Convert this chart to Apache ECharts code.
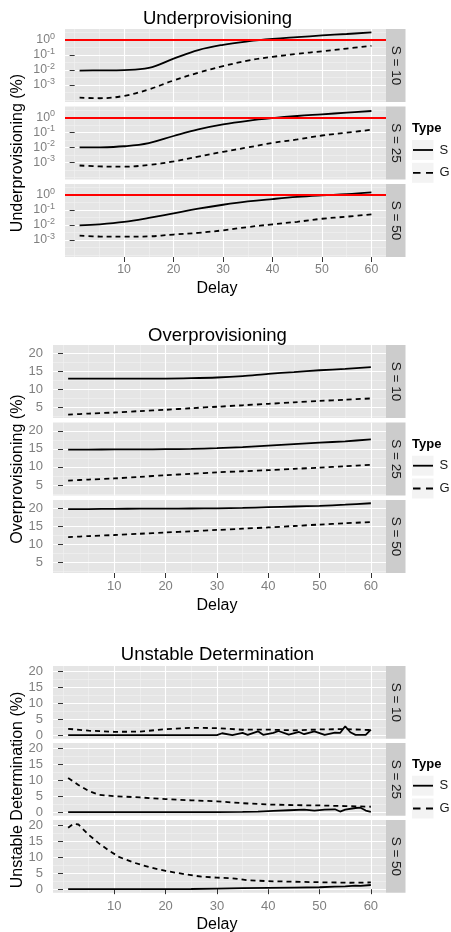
<!DOCTYPE html>
<html><head><meta charset="utf-8">
<script src="https://cdn.jsdelivr.net/npm/echarts@6/dist/echarts.min.js"></script>
<style>html,body{margin:0;padding:0;background:#fff}#c{width:451px;height:932px}</style>
</head><body><div id="c"></div>
<script>
// ---------- data ----------
const delays = [1,5,10,15,20,25,30,35,40,45,50,55,60];
const xTicks = [10,20,30,40,50,60];
const xMinor = [0,5,15,25,35,45,55];
const facetLabels = ['S = 10','S = 25','S = 50'];
const typeNames = ['S','G'];

// Underprovisioning (%), log scale
const underTicks = [0.001,0.01,0.1,1];
const underMinor = [0.0001,0.000316,0.00316,0.0316,0.316,3.16];
const underS10 = [0.0091,0.0093,0.0098,0.0135,0.056,0.21,0.47,0.79,1.15,1.51,1.95,2.45,3.09];
const underG10 = [0.000145,0.000132,0.00019,0.00051,0.0020,0.0065,0.0178,0.042,0.074,0.117,0.174,0.263,0.398];
const underS25 = [0.0100,0.0102,0.012,0.0195,0.0575,0.158,0.339,0.589,0.89,1.23,1.58,2.04,2.63];
const underG25 = [0.00063,0.00055,0.000525,0.00069,0.00117,0.00245,0.0051,0.0100,0.020,0.034,0.062,0.095,0.151];
const underS50 = [0.0095,0.011,0.0158,0.029,0.059,0.12,0.219,0.363,0.525,0.724,0.912,1.10,1.45];
const underG50 = [0.00195,0.0017,0.00166,0.00174,0.0023,0.0030,0.0044,0.0072,0.011,0.0162,0.0257,0.0355,0.051];

// Overprovisioning (%)
const overTicks = [5,10,15,20];
const overMinor = [2.5,7.5,12.5,17.5];
const overS10 = [13.0,13.0,13.0,13.0,13.0,13.1,13.3,13.7,14.3,14.8,15.3,15.7,16.2];
const overG10 = [3.0,3.3,3.6,4.0,4.35,4.8,5.2,5.6,6.0,6.4,6.8,7.15,7.5];
const overS25 = [14.8,14.8,14.85,14.85,14.9,15.0,15.2,15.5,15.9,16.3,16.7,17.1,17.6];
const overG25 = [6.2,6.5,6.8,7.25,7.7,8.1,8.5,8.8,9.1,9.45,9.8,10.2,10.6];
const overS50 = [19.8,19.8,19.85,19.9,19.9,19.95,20.0,20.1,20.3,20.5,20.7,21.0,21.4];
const overG50 = [12.0,12.3,12.6,12.95,13.3,13.65,14.0,14.35,14.7,15.1,15.5,15.85,16.2];

// Unstable Determination (%) as [delay, value]
const unstTicks = [0,5,10,15,20];
const unstMinor = [2.5,7.5,12.5,17.5];
const unstS10 = [[1,0],[30,0],[31,0.6],[33,0],[35,0.7],[36,0.1],[38,1.2],[39,0.1],[41,0.7],[42,1.3],[44,0.2],[46,1.0],[47,0.3],[49,1.2],[51,0.1],[53,0.8],[54,0.7],[55,2.8],[56,0.9],[57,0.1],[59,0.1],[60,1.7]];
const unstG10 = [[1,2.0],[5,1.4],[10,1.05],[15,1.1],[20,1.9],[25,2.3],[30,2.2],[35,1.7],[40,1.75],[45,1.5],[50,1.8],[55,1.9],[60,1.6]];
const unstS25 = [[1,0],[30,0],[35,0.1],[38,0.2],[41,0.4],[44,0.6],[47,0.8],[49,0.5],[51,0.8],[53,0.9],[54,0.2],[55,0.8],[57,1.3],[58,1.4],[59,0.5],[60,0.1]];
const unstG25 = [[1,10.7],[3,8.5],[5,6.6],[7,5.4],[10,5.0],[15,4.6],[20,4.1],[25,3.7],[30,3.4],[35,2.8],[40,2.4],[45,2.2],[50,2.1],[55,1.9],[60,1.7]];
const unstS50 = [[1,0],[25,0.05],[30,0.2],[35,0.3],[40,0.4],[45,0.5],[50,0.6],[53,0.8],[55,0.9],[57,1.1],[58,1.0],[60,1.3]];
const unstG50 = [[1,19.2],[2,20.4],[3,20.2],[5,17.0],[7,14.3],[9,12.0],[11,10.0],[14,8.2],[17,6.8],[20,5.7],[24,4.6],[27,3.9],[30,3.6],[33,3.4],[36,2.8],[40,2.5],[43,2.4],[49,2.2],[56,2.0],[60,2.1]];

// ---------- build ----------
const FONT = '"Liberation Sans", Arial, Helvetica, sans-serif';
const pair = (xs, ys) => xs.map((x, i) => [x, ys[i]]);

const charts = [
  {title:'Underprovisioning', yTitle:'Underprovisioning (%)', log:true,
   yMin:Math.pow(10,-4.13), yMax:Math.pow(10,0.72), ticks:underTicks, minor:underMinor,
   left:65, tops:[29,106.5,184], h:73, smooth:0.4, ref:true, fs:12.3,
   S:[pair(delays,underS10),pair(delays,underS25),pair(delays,underS50)],
   G:[pair(delays,underG10),pair(delays,underG25),pair(delays,underG50)],
   titleY:19, yTitleY:153, delayY:289, legY:128.3},
  {title:'Overprovisioning', yTitle:'Overprovisioning (%)', log:false,
   yMin:2.08, yMax:22.3, ticks:overTicks, minor:overMinor,
   left:53, tops:[345,422.5,500], h:73, smooth:0.3, ref:false, fs:13,
   S:[pair(delays,overS10),pair(delays,overS25),pair(delays,overS50)],
   G:[pair(delays,overG10),pair(delays,overG25),pair(delays,overG50)],
   titleY:336, yTitleY:469, delayY:606, legY:444},
  {title:'Unstable Determination', yTitle:'Unstable Determination (%)', log:false,
   yMin:-1.1, yMax:21.6, ticks:unstTicks, minor:unstMinor,
   left:53, tops:[666,743,820], h:72.7, smooth:false, ref:false, fs:13,
   S:[unstS10,unstS25,unstS50], G:[unstG10,unstG25,unstG50],
   titleY:655, yTitleY:790, delayY:925, legY:764}
];

const RIGHT = 386;
const grid = [], xAxis = [], yAxis = [], series = [], graphic = [];
const labelColor = '#7f7f7f';
const tickStyle = {color:'#333', width:1};

charts.forEach((c) => {
  c.tops.forEach((top, p) => {
    const g = grid.length;
    const bottom = p === 2;
    grid.push({left:c.left, top:top, width:RIGHT - c.left, height:c.h, show:true,
      backgroundColor:'#E5E5E5', borderWidth:0, containLabel:false});
    // minor x
    xAxis.push({gridIndex:g, type:'value', min:-1.95, max:62.95, z:0.5,
      axisLine:{show:false}, axisTick:{show:false, customValues:xMinor},
      axisLabel:{show:false}, splitLine:{show:true, lineStyle:{color:'#F2F2F2', width:0.6}}});
    // major x
    const xi = xAxis.length;
    xAxis.push({gridIndex:g, type:'value', min:-1.95, max:62.95, z:1, position:'bottom',
      axisLine:{show:false},
      axisTick:{show:bottom, customValues:xTicks, length:5, lineStyle:tickStyle},
      axisLabel:{show:bottom, customValues:xTicks, margin:7, color:labelColor, fontSize:c.fs, fontFamily:FONT},
      splitLine:{show:true, lineStyle:{color:'#FFFFFF', width:1.1}}});
    const yType = c.log ? 'log' : 'value';
    // minor y
    yAxis.push({gridIndex:g, type:yType, logBase:10, min:c.yMin, max:c.yMax, z:0.5,
      axisLine:{show:false}, axisTick:{show:false, customValues:c.minor},
      axisLabel:{show:false}, splitLine:{show:true, lineStyle:{color:'#F2F2F2', width:0.6}}});
    const yi = yAxis.length;
    const yLabel = c.log ? {
        customValues:c.ticks, margin:10,
        formatter:(v) => '{b|10}{s|' + Math.round(Math.log10(v)) + '}',
        rich:{b:{fontSize:c.fs, lineHeight:16, color:labelColor, fontFamily:FONT},
              s:{fontSize:9, lineHeight:9, verticalAlign:'top', color:labelColor, fontFamily:FONT}}
      } : {customValues:c.ticks, margin:10, color:labelColor, fontSize:c.fs, fontFamily:FONT};
    yAxis.push({gridIndex:g, type:yType, logBase:10, min:c.yMin, max:c.yMax, z:1, position:'left',
      axisLine:{show:false},
      axisTick:{show:true, customValues:c.ticks, length:5, lineStyle:tickStyle},
      axisLabel:yLabel,
      splitLine:{show:true, lineStyle:{color:'#FFFFFF', width:1.1}}});
    const sSeries = {type:'line', name:'S', xAxisIndex:xi, yAxisIndex:yi, data:c.S[p],
      symbol:'none', showSymbol:false, smooth:c.smooth, silent:true, z:3,
      lineStyle:{color:'#000', width:1.8, type:'solid'}};
    if (c.ref) {
      sSeries.markLine = {silent:true, symbol:['none','none'], label:{show:false},
        lineStyle:{color:'#FF0000', width:1.8, type:'solid'}, data:[{yAxis:1}], animation:false};
    }
    series.push(sSeries);
    series.push({type:'line', name:'G', xAxisIndex:xi, yAxisIndex:yi, data:c.G[p],
      symbol:'none', showSymbol:false, smooth:c.smooth, silent:true, z:3,
      lineStyle:{color:'#000', width:1.8, type:[5,4]}});
    // strip
    graphic.push({type:'rect', shape:{x:RIGHT, y:top, width:19.5, height:c.h}, style:{fill:'#CCCCCC'}, silent:true});
    graphic.push({type:'text', x:RIGHT + 10, y:top + c.h / 2, rotation:-Math.PI / 2, silent:true,
      style:{text:facetLabels[p], fill:'#1a1a1a', fontSize:13.5, fontFamily:FONT, align:'center', verticalAlign:'middle'}});
  });
  // titles
  graphic.push({type:'text', x:217.5, y:c.titleY, silent:true,
    style:{text:c.title, fill:'#000', fontSize:18.5, fontFamily:FONT, align:'center', verticalAlign:'middle'}});
  graphic.push({type:'text', x:18, y:c.yTitleY, rotation:Math.PI / 2, silent:true,
    style:{text:c.yTitle, fill:'#000', fontSize:16, fontFamily:FONT, align:'center', verticalAlign:'middle'}});
  graphic.push({type:'text', x:217, y:c.delayY, silent:true,
    style:{text:'Delay', fill:'#000', fontSize:16, fontFamily:FONT, align:'center', verticalAlign:'middle'}});
  // legend
  const ly = c.legY;
  graphic.push({type:'text', x:412, y:ly, silent:true,
    style:{text:'Type', fill:'#000', fontSize:13, fontWeight:'bold', fontFamily:FONT, align:'left', verticalAlign:'middle'}});
  const keyY = [ly + 21.7, ly + 44.5];
  keyY.forEach((ky, k) => {
    graphic.push({type:'rect', shape:{x:411.5, y:ky - 10.5, width:22.5, height:21}, style:{fill:'#F3F3F3', stroke:'#FFFFFF', lineWidth:1}, silent:true});
    graphic.push({type:'line', shape:{x1:413, y1:ky, x2:433, y2:ky}, silent:true,
      style:{stroke:'#000', lineWidth:1.8, lineDash: k === 0 ? null : [7.5,5.5]}});
    graphic.push({type:'text', x:439.5, y:ky, silent:true,
      style:{text:typeNames[k], fill:'#1a1a1a', fontSize:13, fontFamily:FONT, align:'left', verticalAlign:'middle'}});
  });
});

const chart = echarts.init(document.getElementById('c'));
chart.setOption({animation:false, backgroundColor:'#FFFFFF', grid, xAxis, yAxis, series, graphic});
</script></body></html>
